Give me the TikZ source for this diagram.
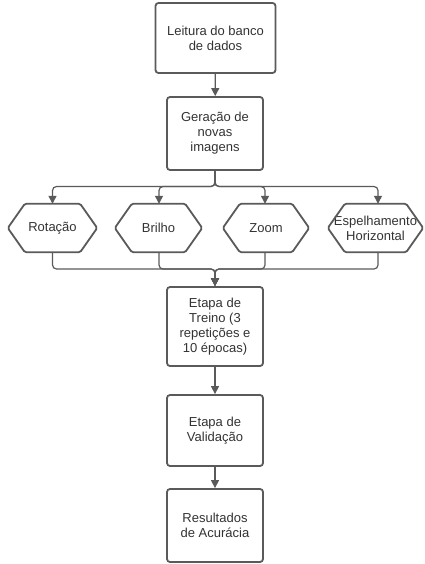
\documentclass[tikz,border=0pt]{standalone}
\usepackage{fontspec}
\setmainfont{Liberation Sans}
\usetikzlibrary{arrows.meta,calc}
\definecolor{ln}{HTML}{5A5A5A}
\definecolor{tx}{HTML}{333333}
\begin{document}
\begin{tikzpicture}[x=1pt,y=-1pt,
  box/.style={draw=ln,line width=1.8pt,rounded corners=3pt,align=center,text=tx,
    font=\fontsize{13}{15}\selectfont,inner sep=0pt,fill=white},
  hex/.style={draw=none,align=center,text=tx,font=\fontsize{13}{15}\selectfont,inner sep=0pt},
  hexline/.style={draw=ln,line width=1.8pt,rounded corners=1.5pt,line join=round},
  conn/.style={draw=ln,line width=1.2pt,rounded corners=4pt},
  arr/.style={conn,-{Triangle[length=8pt,width=8pt]}}]
\useasboundingbox (0,0) rectangle (424,564);
\node[box,minimum width=120pt,minimum height=70pt] (b1) at (215.5,38) {Leitura do banco\\de dados};
\node[box,minimum width=96pt,minimum height=73pt] (b2) at (215,133.5) {Geração de\\novas\\imagens};
\node[hex,minimum width=89pt,minimum height=48pt] (h1) at (52.5,228) {Rotação};
\node[hex,minimum width=87pt,minimum height=48pt] (h2) at (158.5,228) {Brilho};
\node[hex,minimum width=86pt,minimum height=48pt] (h3) at (266,228) {Zoom};
\node[hex,minimum width=95pt,minimum height=48pt] (h4) at (375.5,228) {Espelhamento\\Horizontal};
\node[box,minimum width=96pt,minimum height=79pt] (b3) at (215,326.5) {Etapa de\\Treino (3\\repetições e\\10 épocas)};
\node[box,minimum width=96pt,minimum height=71pt] (b4) at (215,430.5) {Etapa de\\Validação};
\node[box,minimum width=96pt,minimum height=73pt] (b5) at (215,525.5) {Resultados\\de Acurácia};
\foreach \h in {h1,h2,h3,h4}{
  \draw[hexline] (\h.west) -- ($(\h.north west)+(17,0)$) -- ($(\h.north east)+(-17,0)$) -- (\h.east)
    -- ($(\h.south east)+(-17,0)$) -- ($(\h.south west)+(17,0)$) -- cycle;
}
\coordinate (busT) at (0,186.5);
\coordinate (busB) at (0,269);
\draw[arr] (b1) -- (b2);
\draw[arr] (b2.south) -- (b2.south |- busT) -| (h1.north);
\draw[arr] (b2.south) -- (b2.south |- busT) -| ([xshift=0.5pt]h2.north);
\draw[arr] (b2.south) -- (b2.south |- busT) -| ([xshift=-1pt]h3.north);
\draw[arr] (b2.south) -- (b2.south |- busT) -| ([xshift=2.5pt]h4.north);
\draw[arr] (h1.south) |- (b3.north |- busB) -- (b3.north);
\draw[arr] ([xshift=0.5pt]h2.south) |- (b3.north |- busB) -- (b3.north);
\draw[arr] ([xshift=-1pt]h3.south) |- (b3.north |- busB) -- (b3.north);
\draw[arr] ([xshift=2.5pt]h4.south) |- (b3.north |- busB) -- (b3.north);
\draw[arr] (b3) -- (b4);
\draw[arr] (b4) -- (b5);
\end{tikzpicture}
\end{document}
